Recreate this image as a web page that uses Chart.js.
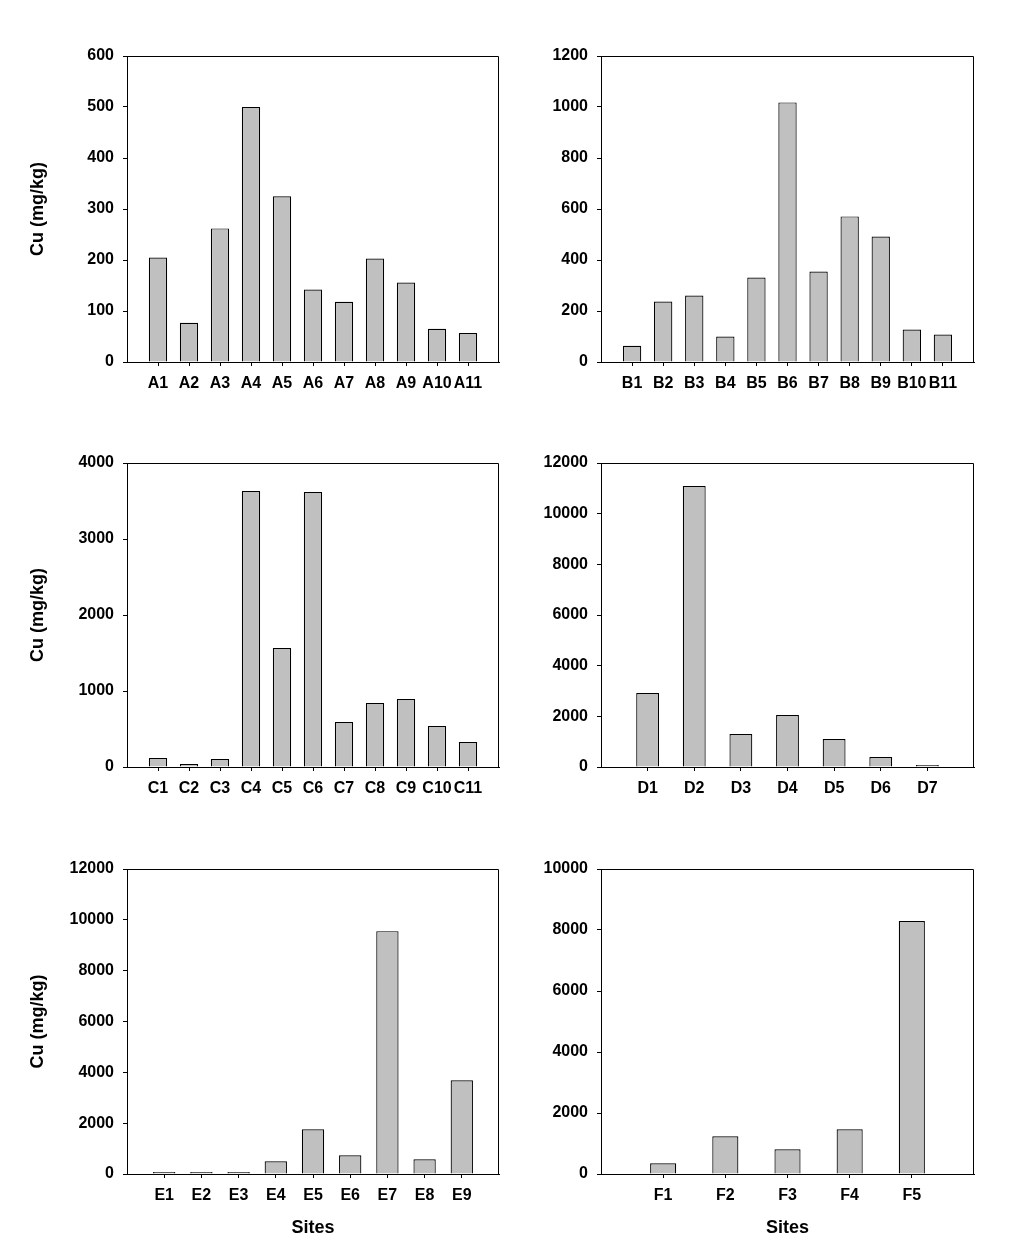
<!DOCTYPE html>
<html>
<head>
<meta charset="utf-8">
<script src="https://cdn.jsdelivr.net/npm/chart.js@4/dist/chart.umd.min.js"></script>
<style>
  html, body { margin: 0; padding: 0; background: #fff; }
  #wrap { position: relative; width: 1016px; height: 1249px; background: #fff; }
  canvas { position: absolute; }
</style>
</head>
<body>
<div id="wrap">
  <canvas id="cA" width="508" height="410" style="left:0px;top:0px"></canvas>
  <canvas id="cB" width="508" height="410" style="left:508px;top:0px"></canvas>
  <canvas id="cC" width="508" height="406" style="left:0px;top:410px"></canvas>
  <canvas id="cD" width="508" height="406" style="left:508px;top:410px"></canvas>
  <canvas id="cE" width="508" height="433" style="left:0px;top:816px"></canvas>
  <canvas id="cF" width="508" height="433" style="left:508px;top:816px"></canvas>
</div>
<script>
// ---- Data (Cu, mg/kg) ----
const sitesA = ['A1','A2','A3','A4','A5','A6','A7','A8','A9','A10','A11'];
const cuA    = [205, 77, 262, 500, 325, 142, 118, 203, 156, 65, 57];

const sitesB = ['B1','B2','B3','B4','B5','B6','B7','B8','B9','B10','B11'];
const cuB    = [64, 237, 261, 100, 331, 1018, 355, 571, 492, 127, 108];

const sitesC = ['C1','C2','C3','C4','C5','C6','C7','C8','C9','C10','C11'];
const cuC    = [118, 40, 105, 3632, 1566, 3618, 592, 842, 895, 540, 329];

const sitesD = ['D1','D2','D3','D4','D5','D6','D7'];
const cuD    = [2921, 11093, 1303, 2053, 1105, 395, 79];

const sitesE = ['E1','E2','E3','E4','E5','E6','E7','E8','E9'];
const cuE    = [80, 80, 80, 500, 1760, 736, 9555, 579, 3689];

const sitesF = ['F1','F2','F3','F4','F5'];
const cuF    = [351, 1237, 811, 1467, 8293];

// y-axis tick labels per panel
const yTicksA = [0, 100, 200, 300, 400, 500, 600];
const yTicksB = [0, 200, 400, 600, 800, 1000, 1200];
const yTicksC = [0, 1000, 2000, 3000, 4000];
const yTicksD = [0, 2000, 4000, 6000, 8000, 10000, 12000];
const yTicksE = [0, 2000, 4000, 6000, 8000, 10000, 12000];
const yTicksF = [0, 2000, 4000, 6000, 8000, 10000];

const yTitle = 'Cu (mg/kg)';
const xTitle = 'Sites';

// ---- Rendering ----
const FONT = "'Liberation Sans', Arial, sans-serif";

const framePlugin = {
  id: 'frame',
  afterDraw(chart) {
    const { ctx, chartArea: { left, top, right, bottom } } = chart;
    ctx.save();
    ctx.strokeStyle = '#000';
    ctx.lineWidth = 1;
    ctx.beginPath();
    ctx.moveTo(Math.round(left) + 0.5, Math.round(top) + 0.5);
    ctx.lineTo(Math.round(right) - 0.5, Math.round(top) + 0.5);
    ctx.lineTo(Math.round(right) - 0.5, Math.round(bottom) + 0.5);
    ctx.stroke();
    ctx.restore();
  }
};

function makePanel(id, cats, vals, yTicks, opts) {
  const labels = [''].concat(cats, ['']);
  const data = [null].concat(vals, [null]);
  const yMin = yTicks[0];
  const yMax = yTicks[yTicks.length - 1];
  const yStep = yTicks[1] - yTicks[0];
  new Chart(document.getElementById(id), {
    type: 'bar',
    data: {
      labels: labels,
      datasets: [{
        data: data,
        backgroundColor: '#c0c0c0',
        borderColor: '#000000',
        borderWidth: 1.2,
        borderSkipped: 'start',
        inflateAmount: 0,
        categoryPercentage: 1.0,
        barPercentage: opts.barPct
      }]
    },
    options: {
      responsive: false,
      animation: false,
      devicePixelRatio: 1,
      layout: { padding: opts.padding },
      plugins: { legend: { display: false }, tooltip: { enabled: false } },
      scales: {
        x: {
          type: 'category',
          offset: false,
          grid: {
            offset: false,
            drawOnChartArea: false,
            drawTicks: true,
            tickLength: 4,
            tickColor: (c) => (c.tick && c.tick.label === '') ? 'rgba(0,0,0,0)' : '#000'
          },
          border: { display: true, color: '#000', width: 1 },
          ticks: {
            autoSkip: false,
            maxRotation: 0,
            minRotation: 0,
            padding: 8,
            color: '#000',
            font: { family: FONT, size: 16, weight: 'bold' }
          },
          title: {
            display: !!opts.xTitle,
            text: opts.xTitle || '',
            color: '#000',
            font: { family: FONT, size: 18, weight: 'bold' },
            padding: { top: 0, bottom: 10 }
          },
          afterFit: (s) => { s.height = opts.xHeight; }
        },
        y: {
          type: 'linear',
          min: yMin,
          max: yMax,
          grid: {
            drawOnChartArea: false,
            drawTicks: true,
            tickLength: 4,
            tickColor: '#000'
          },
          border: { display: true, color: '#000', width: 1 },
          ticks: {
            stepSize: yStep,
            padding: 9,
            color: '#000',
            font: { family: FONT, size: 16, weight: 'bold' },
            callback: (v) => String(v)
          },
          title: {
            display: !!opts.yTitle,
            text: opts.yTitle || '',
            color: '#000',
            font: { family: FONT, size: 18, weight: 'bold' },
            padding: 0
          },
          afterFit: (s) => { s.width = opts.yWidth; }
        }
      }
    },
    plugins: [framePlugin]
  });
}

makePanel('cA', sitesA, cuA, yTicksA, { barPct: 0.59, padding: { left: 27, top: 56, right: 9, bottom: 0 }, yWidth: 100, xHeight: 48, yTitle: yTitle });
makePanel('cB', sitesB, cuB, yTicksB, { barPct: 0.59, padding: { left: 0, top: 56, right: 42, bottom: 0 }, yWidth: 93, xHeight: 48 });
makePanel('cC', sitesC, cuC, yTicksC, { barPct: 0.59, padding: { left: 27, top: 53, right: 9, bottom: 0 }, yWidth: 100, xHeight: 49, yTitle: yTitle });
makePanel('cD', sitesD, cuD, yTicksD, { barPct: 0.49, padding: { left: 0, top: 53, right: 42, bottom: 0 }, yWidth: 93, xHeight: 49 });
makePanel('cE', sitesE, cuE, yTicksE, { barPct: 0.60, padding: { left: 27, top: 53, right: 9, bottom: 0 }, yWidth: 100, xHeight: 75, yTitle: yTitle, xTitle: xTitle });
makePanel('cF', sitesF, cuF, yTicksF, { barPct: 0.42, padding: { left: 0, top: 53, right: 42, bottom: 0 }, yWidth: 93, xHeight: 75, xTitle: xTitle });
</script>
</body>
</html>
